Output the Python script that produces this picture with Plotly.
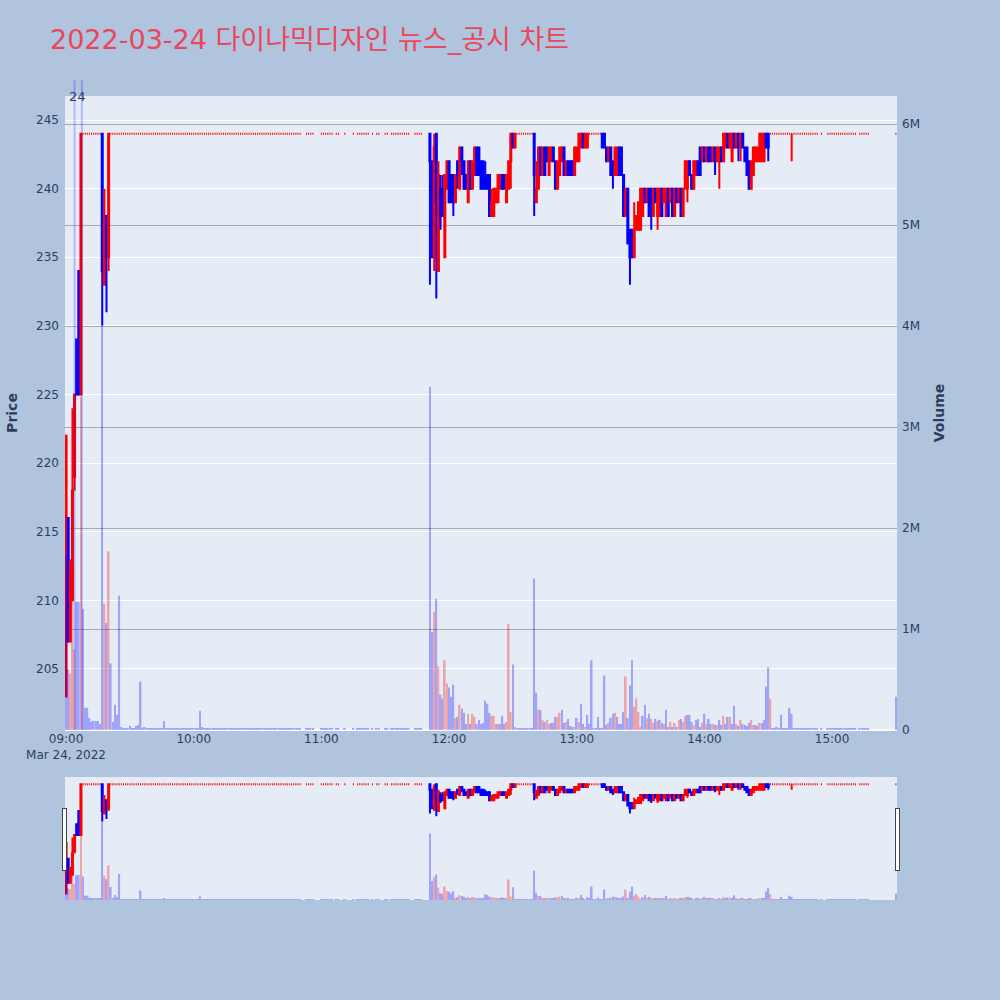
import numpy as np
import pandas as pd
import plotly.graph_objects as go
from plotly.subplots import make_subplots

TRADE_DATE = "2022-03-24"
SESSION_START = "09:00"
TITLE = "2022-03-24 다이나믹디자인 뉴스_공시 차트"
LIMIT_PRICE = 244  # upper-limit price where the stock sat most of the day

# ---- active (non-flat) one-minute candles: minute offset from 09:00 ----
act_min = [0, 1, 2, 3, 4, 5, 6, 7, 17, 18, 19, 20] + list(range(171, 212)) + \
    list(range(220, 246)) + list(range(252, 331)) + [341]

act_open = [203, 216, 207, 210, 219, 229, 234, 225, 244, 233, 238, 235,
            244, 242, 235, 244, 234, 240, 240, 235, 240, 242,
            241, 241, 239, 242, 240, 243, 242, 241, 239, 242,
            240, 241, 243, 243, 242, 242, 241, 241, 241, 238,
            238, 239, 239, 240, 241, 241, 239, 240, 242, 244,
            243,
            244, 239, 240, 243, 241, 243, 243, 241, 242, 243,
            242, 240, 241, 242, 243, 241, 242, 242, 242, 241,
            242, 242, 243, 244, 243, 243,
            244, 244, 243, 242, 243, 242, 241, 241, 243, 243,
            241, 238, 240, 237, 237, 235, 237, 237, 237, 238,
            240, 239, 240, 240, 238, 240, 238, 238, 240, 239,
            238, 240, 239, 240, 238, 240, 239, 240, 238, 240,
            240, 242, 241, 240, 241, 242, 243, 242, 243, 242,
            243, 243, 242, 243, 242, 242, 243, 242, 243, 244,
            243, 242, 244, 243, 244, 243, 244, 243, 243, 242,
            240, 241, 242, 242, 242, 242, 242, 244, 244,
            244]

act_high = [222, 216, 213, 224, 225, 229, 234, 244, 244, 240, 238, 244,
            244, 242, 244, 244, 242, 241, 241, 241, 242, 242,
            241, 241, 241, 242, 243, 243, 242, 241, 242, 242,
            242, 243, 243, 243, 242, 242, 242, 241, 241, 240,
            240, 240, 241, 241, 241, 241, 241, 242, 244, 244,
            244,
            244, 242, 243, 243, 243, 243, 243, 243, 243, 243,
            242, 242, 243, 243, 243, 242, 242, 242, 242, 243,
            243, 244, 244, 244, 244, 244,
            244, 244, 243, 243, 243, 242, 243, 243, 243, 243,
            241, 240, 240, 237, 237, 239, 238, 239, 240, 240,
            240, 240, 240, 240, 240, 240, 240, 240, 240, 240,
            240, 240, 240, 240, 240, 240, 240, 240, 240, 242,
            242, 242, 241, 242, 242, 242, 243, 243, 243, 243,
            243, 243, 243, 243, 243, 243, 243, 244, 244, 244,
            244, 244, 244, 244, 244, 244, 244, 243, 243, 242,
            242, 243, 243, 243, 244, 244, 244, 244, 244,
            244]

act_low = [203, 207, 207, 210, 218, 225, 225, 225, 230, 233, 231, 234,
           233, 235, 234, 232, 234, 237, 238, 235, 240, 239,
           239, 238, 239, 240, 240, 241, 240, 240, 239, 240,
           240, 241, 241, 241, 240, 240, 240, 240, 238, 238,
           238, 239, 239, 240, 240, 240, 239, 240, 240, 243,
           243,
           238, 239, 240, 241, 241, 241, 242, 241, 242, 242,
           240, 240, 241, 242, 241, 241, 241, 241, 241, 241,
           242, 242, 243, 243, 243, 243,
           243, 243, 242, 242, 241, 240, 241, 241, 241, 241,
           238, 238, 236, 233, 235, 235, 237, 237, 237, 238,
           239, 239, 238, 237, 238, 239, 237, 238, 238, 239,
           238, 238, 239, 238, 238, 239, 239, 238, 238, 240,
           239, 241, 240, 240, 241, 241, 241, 242, 242, 242,
           242, 242, 242, 241, 242, 240, 242, 242, 243, 243,
           243, 242, 243, 243, 242, 242, 243, 242, 241, 240,
           240, 241, 242, 242, 242, 242, 242, 243, 242,
           242]

act_close = [222, 207, 212, 218, 225, 225, 225, 244, 234, 238, 235, 244,
             242, 235, 243, 239, 241, 238, 238, 241, 242, 239,
             239, 239, 241, 241, 243, 242, 240, 240, 242, 240,
             242, 243, 241, 241, 240, 240, 240, 240, 238, 239,
             240, 240, 241, 241, 240, 240, 241, 242, 244, 243,
             244,
             241, 240, 243, 241, 243, 241, 242, 243, 243, 242,
             240, 242, 243, 243, 241, 242, 241, 241, 241, 243,
             243, 244, 244, 243, 244, 244,
             243, 243, 242, 243, 241, 241, 243, 243, 241, 241,
             238, 240, 236, 235, 235, 237, 238, 239, 240, 240,
             239, 240, 238, 239, 240, 239, 240, 240, 238, 240,
             240, 238, 240, 238, 240, 239, 240, 238, 240, 242,
             242, 241, 240, 242, 242, 241, 241, 243, 242, 243,
             242, 242, 243, 242, 243, 243, 242, 244, 244, 243,
             244, 244, 243, 244, 243, 244, 243, 242, 241, 240,
             242, 243, 243, 243, 244, 244, 244, 243, 243,
             244]

# volume in thousands of shares
act_vol_k = [1730, 600, 560, 1550, 800, 1270, 1270, 3300, 4000, 1250, 1060, 1770,
             3400, 970, 1170, 1300, 630, 350, 310, 690, 460, 420,
             330, 450, 120, 130, 250, 210, 170, 60, 160, 60,
             160, 130, 60, 100, 60, 70, 290, 260, 170, 140,
             140, 60, 60, 60, 140, 60, 80, 1050, 180, 650,
             30,
             1500, 370, 200, 200, 100, 80, 100, 60, 70, 70,
             130, 130, 170, 200, 70, 80, 110, 40, 30, 30,
             120, 80, 260, 60, 30, 150,
             20, 540, 50, 70, 120, 160, 170, 130, 60, 60,
             180, 530, 120, 440, 690, 230, 310, 180, 30, 140,
             250, 120, 160, 110, 70, 110, 90, 100, 70, 60,
             200, 30, 80, 30, 70, 30, 100, 110, 80, 140,
             150, 150, 80, 50, 100, 110, 30, 70, 160, 60,
             110, 60, 60, 50, 50, 100, 50, 140, 60, 130,
             130, 60, 240, 60, 40, 100, 60, 50, 40, 70,
             100, 50, 50, 40, 70, 70, 100, 430, 620,
             160]

# ---- minutes traded flat at the upper limit (open = high = low = close) ----
lim_min = list(range(8, 17)) + list(range(21, 111)) + \
    [113, 114, 115, 116, 120, 121, 122, 123, 124, 125, 127, 128, 131, 135,
     137, 138, 139, 140, 141, 142, 144, 146, 147, 150, 151,
     153, 154, 155, 156, 157, 158, 159, 160, 161, 164, 165, 166, 167] + \
    list(range(212, 220)) + list(range(246, 252)) + list(range(331, 341)) + \
    list(range(342, 354)) + [355] + list(range(358, 372)) + list(range(373, 378)) + [390]

lim_vol_k = [1200, 220, 220, 120, 80, 90, 90, 90, 60,
             660, 80, 250, 150, 1330, 30, 10, 20, 10, 40,
             10, 10, 40, 50, 480, 20, 30, 10, 10, 10,
             10, 20, 10, 10, 20, 90, 10, 20, 10, 10,
             20, 10, 10, 20, 10, 10, 10, 10, 10, 10,
             10, 20, 190, 30, 10, 10, 10, 10, 10, 10,
             10, 10, 10, 10, 10, 10, 10, 20, 20, 20,
             10, 10, 10, 10, 20, 10, 10, 10, 10, 10,
             10, 20, 10, 10, 10, 10, 10, 10, 20, 10,
             10, 10, 10, 10, 10, 10, 10, 10, 10, 10,
             10, 10, 10, 10, 10, 10, 20, 10, 10, 10, 10, 10, 10, 20,
             10, 10, 10, 10, 10, 10, 10, 10, 10, 10, 10,
             10, 10, 10, 10, 10, 10, 10, 10, 10, 10, 10, 10, 10,
             20, 10, 20, 10, 10, 10, 10, 10,
             60, 690, 20, 20, 130, 20,
             310, 20, 20, 30, 20, 150, 10, 20, 20, 220,
             20, 10, 10, 10, 20, 10, 10, 10, 10, 10, 10, 10,
             10,
             10, 10, 10, 10, 10, 10, 10, 10, 10, 10, 10, 10, 10, 10,
             10, 10, 10, 10, 10,
             330]

# news / disclosure markers
news_times = ["09:04:00", "09:07:25"]
news_label = "24"

# ---------------- build table ----------------
base = pd.Timestamp(f"{TRADE_DATE} {SESSION_START}")
df_act = pd.DataFrame({"m": act_min, "open": act_open, "high": act_high,
                       "low": act_low, "close": act_close, "vol": act_vol_k})
df_lim = pd.DataFrame({"m": lim_min, "open": LIMIT_PRICE, "high": LIMIT_PRICE,
                       "low": LIMIT_PRICE, "close": LIMIT_PRICE, "vol": lim_vol_k})
df = pd.concat([df_act, df_lim]).sort_values("m").reset_index(drop=True)
df["t"] = base + pd.to_timedelta(df["m"], unit="min")
df["vol"] = df["vol"] * 1000
vol_colors = np.where(df["close"] > df["close"].shift(1), "red", "blue")

FONT = "DejaVu Sans, Verdana, sans-serif"

fig = make_subplots(specs=[[{"secondary_y": True}]])
fig.add_trace(go.Candlestick(
    x=df["t"], open=df["open"], high=df["high"], low=df["low"], close=df["close"],
    increasing=dict(line=dict(color="red"), fillcolor="red"),
    decreasing=dict(line=dict(color="blue"), fillcolor="blue"),
    showlegend=False, name="Price"), secondary_y=False)
fig.add_trace(go.Bar(
    x=df["t"], y=df["vol"], marker=dict(color=vol_colors, line=dict(width=0)),
    opacity=0.3, showlegend=False, name="Volume"), secondary_y=True)

for nt in news_times:
    fig.add_shape(type="line", xref="x", yref="paper",
                  x0=f"{TRADE_DATE} {nt}", x1=f"{TRADE_DATE} {nt}", y0=0, y1=1.025,
                  line=dict(color="rgba(0,0,255,0.22)", width=2))
fig.add_annotation(x=f"{TRADE_DATE} 09:05:30", y=1.0, xref="x", yref="paper",
                   text=news_label, showarrow=False, yanchor="middle",
                   font=dict(size=13, color="#2a3f5f"))

fig.update_layout(
    width=1000, height=1000,
    paper_bgcolor="lightsteelblue",
    margin=dict(l=65, r=103, t=96, b=100),
    title=dict(text=TITLE, x=0.05, xanchor="left", y=0.96, yanchor="middle",
               yref="container",
               font=dict(size=27, color="#E8475F",
                         family="DejaVu Sans, Noto Sans CJK KR, sans-serif")),
    font=dict(family=FONT),
    showlegend=False,
)
fig.update_xaxes(range=[f"{TRADE_DATE} 08:59:30", f"{TRADE_DATE} 15:30:30"],
                 domain=[0, 1], rangeslider=dict(visible=True, thickness=0.1535),
                 automargin=False)
fig.update_yaxes(title=dict(text="Price", font=dict(size=14, weight="bold")),
                 range=[200.55, 246.75], automargin=False, ticklabelstandoff=5,
                 secondary_y=False)
fig.update_yaxes(title=dict(text="Volume", font=dict(size=14, weight="bold")),
                 range=[0, 6.28e6], gridcolor="darkgray", automargin=False,
                 ticklabelstandoff=4, secondary_y=True)

fig.write_html("out.html", config={"displayModeBar": False},
               post_script="document.body.style.margin='0px';")
